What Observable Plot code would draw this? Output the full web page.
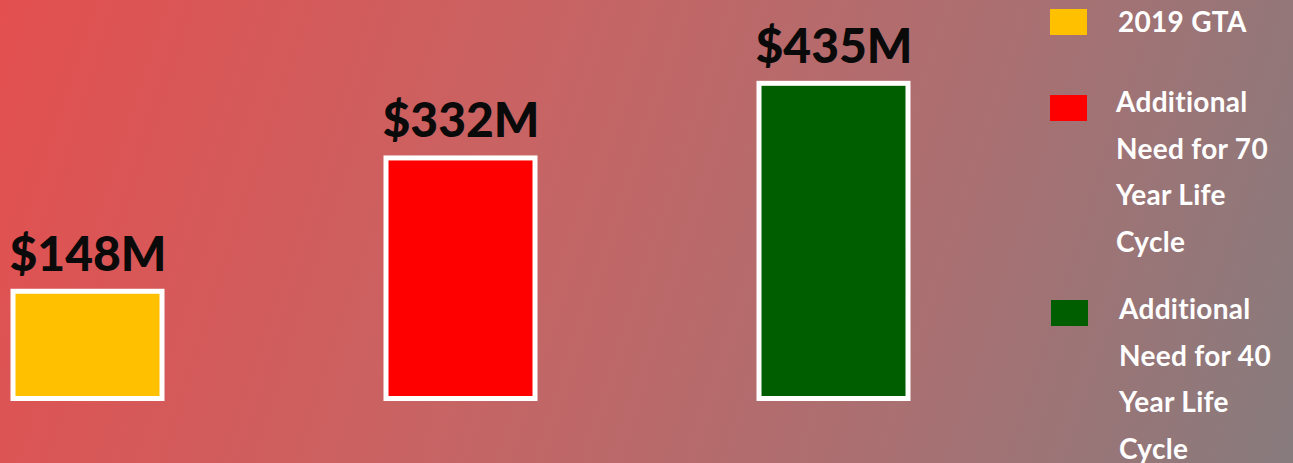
<!DOCTYPE html>
<html>
<head>
<meta charset="utf-8">
<script src="https://cdn.jsdelivr.net/npm/d3@7"></script>
<script src="https://cdn.jsdelivr.net/npm/@observablehq/plot@0.6"></script>
<style>
  html, body { margin: 0; padding: 0; }
  body {
    width: 1293px; height: 463px; overflow: hidden; position: relative;
    background: linear-gradient(108deg, #e34f4f 0%, #c96363 38%, #a97072 72%, #877b7d 100%);
    font-family: Lato, "Open Sans", sans-serif;
  }
  #chart { position: absolute; left: 0; top: 0; }
  #legend { position: absolute; left: 0; top: 0; width: 1293px; height: 463px; pointer-events: none; }
  .sw { position: absolute; width: 37px; height: 26px; }
  .lab { position: absolute; color: #fff; font-weight: 700; font-size: 28px; line-height: 46.5px; white-space: nowrap; letter-spacing: 0.3px; }
</style>
</head>
<body>
<div id="chart"></div>
<div id="legend"></div>
<script>
const categories = ["2019 GTA", "Additional Need for 70 Year Life Cycle", "Additional Need for 40 Year Life Cycle"];
const values = [148, 332, 435];
const valueLabels = ["$148M", "$332M", "$435M"];
const colors = ["#ffc000", "#ff0000", "#005e00"];
const legendLines = [["2019 GTA"], ["Additional", "Need for 70", "Year Life", "Cycle"], ["Additional", "Need for 40", "Year Life", "Cycle"]];

const data = categories.map((c, i) => ({cat: c, value: values[i], label: valueLabels[i], color: colors[i]}));

const chart = Plot.plot({
  width: 1293,
  height: 463,
  margin: 0,
  style: {background: "transparent", overflow: "visible"},
  x: {domain: categories, range: [11.5, 909], paddingInner: 0.6, paddingOuter: 0, axis: null},
  y: {domain: [0, 550], range: [398.5, 0], axis: null},
  marks: [
    Plot.barY(data, {x: "cat", y: "value", fill: "color", stroke: "white", strokeWidth: 5}),
    Plot.text(data, {x: "cat", y: "value", text: "label", lineAnchor: "bottom", dy: -21,
      fontSize: 48, fontWeight: 900, fill: "#0a0a0a", fontFamily: "Lato, 'Open Sans', sans-serif"})
  ]
});
document.getElementById("chart").appendChild(chart);

// legend (HTML, laid out like the original's right-hand key)
const legend = document.getElementById("legend");
const swatchTops = [9, 95, 300];
const textTops = [-2, 78, 285];
const swatchLefts = [1050, 1050, 1051];
const textLefts = [1118, 1116, 1119];
legendLines.forEach((lines, i) => {
  const sw = document.createElement("div");
  sw.className = "sw";
  sw.style.left = swatchLefts[i] + "px";
  sw.style.top = swatchTops[i] + "px";
  sw.style.background = colors[i];
  legend.appendChild(sw);
  const lab = document.createElement("div");
  lab.className = "lab";
  lab.style.left = textLefts[i] + "px";
  lab.style.top = textTops[i] + "px";
  lab.innerHTML = lines.join("<br>");
  legend.appendChild(lab);
});
</script>
</body>
</html>
